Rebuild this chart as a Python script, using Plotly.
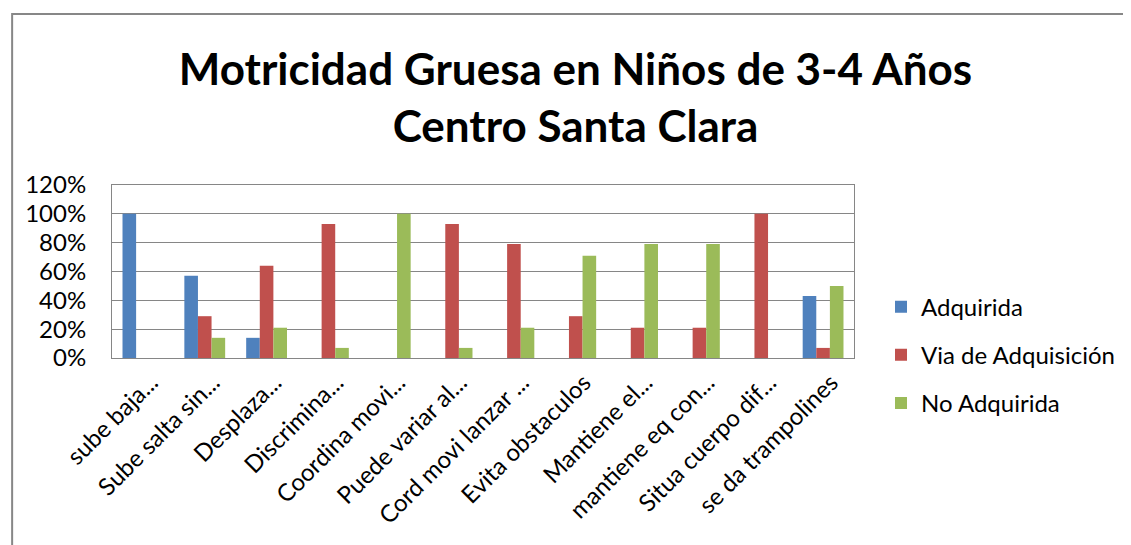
import plotly.graph_objects as go

categorias = ["sube baja...", "Sube salta sin...", "Desplaza...", "Discrimina...",
              "Coordina movi...", "Puede variar al...", "Cord movi lanzar ...",
              "Evita obstaculos", "Mantiene el...", "mantiene eq con...",
              "Situa cuerpo dif...", "se da trampolines"]

adquirida = [1.00, 0.57, 0.14, 0, 0, 0, 0, 0, 0, 0, 0, 0.43]
via_adquisicion = [0, 0.29, 0.64, 0.93, 0, 0.93, 0.79, 0.29, 0.21, 0.21, 1.00, 0.07]
no_adquirida = [0, 0.14, 0.21, 0.07, 1.00, 0.07, 0.21, 0.71, 0.79, 0.79, 0, 0.50]

series = [
    ("Adquirida", adquirida, "#4F81BD"),
    ("Via de Adquisición", via_adquisicion, "#C0504D"),
    ("No Adquirida", no_adquirida, "#9BBB59"),
]

FUENTE = "Lato"
# la página tiene 8px de margen en el body, se descuenta aquí
W, H = 1123, 537

fig = go.Figure()
for nombre, valores, color in series:
    fig.add_trace(go.Bar(
        x=categorias, y=valores, name=nombre,
        marker=dict(color=color, line=dict(width=0)),
        legendgroup=nombre,
    ))

fig.update_layout(
    width=W, height=H,
    margin=dict(l=104, r=W - 847, t=177, b=H - 350),
    paper_bgcolor="white", plot_bgcolor="white",
    barmode="group", bargap=0.34, bargroupgap=0,
    font=dict(family=FUENTE, size=24, color="black"),
    title=dict(
        text="<b>Motricidad Gruesa en Niños de 3-4 Años<br>Centro Santa Clara</b>",
        x=567.5 / W, xanchor="center", y=1 - 77 / H, yanchor="top",
        font=dict(family=FUENTE, size=44, color="black"),
    ),
    legend=dict(
        x=1.035, xanchor="left", y=0.017, yanchor="middle",
        font=dict(family=FUENTE, size=24, color="black"),
        tracegroupgap=14, bgcolor="rgba(0,0,0,0)",
    ),
    showlegend=True,
)

fig.update_yaxes(
    range=[0, 1.2], dtick=0.2, tickformat=".0%",
    showgrid=True, gridcolor="#868686", gridwidth=1,
    showline=True, linecolor="#868686", linewidth=1, mirror=True,
    ticks="", ticklabelstandoff=20, zeroline=False,
)
fig.update_xaxes(
    tickangle=-45, showline=True, linecolor="#868686", linewidth=1, mirror=True,
    ticks="", showgrid=False, ticklabelshift=8,
)

# marco del gráfico
fig.add_shape(type="rect", xref="paper", yref="paper",
              x0=(4 - 104) / 743, x1=2.0, y0=-3.0, y1=(350 - 6) / 173,
              line=dict(color="#878787", width=2), layer="below")

fig.write_html("out.html")
